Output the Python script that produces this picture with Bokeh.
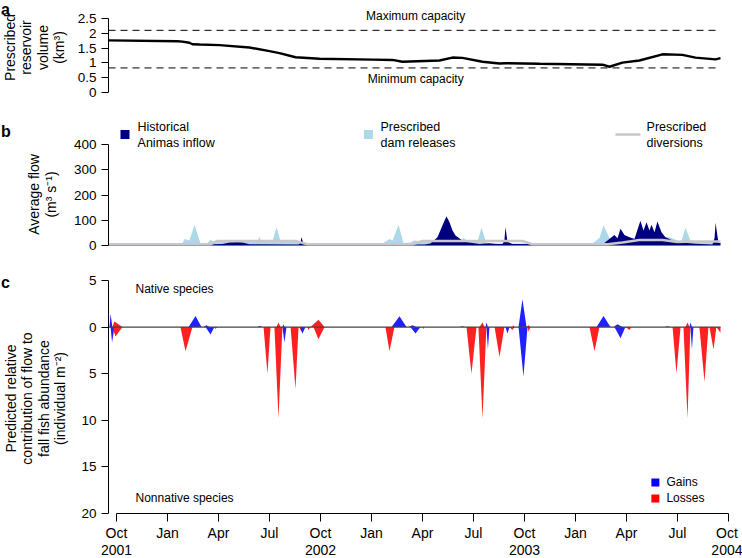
from math import pi
from bokeh.plotting import figure
from bokeh.layouts import column, row
from bokeh.models import Range1d, FixedTicker, Label
from bokeh.core.properties import value
from bokeh.embed import file_html
from bokeh.resources import INLINE

# ---------------- data (time in months since 1 Oct 2001) ----------------
vol_t = [-0.47, 3.59, 3.88, 4.29, 4.47, 4.88, 6.06, 7.82, 9.0, 9.59, 10.53, 11.94, 15.06, 16.24,
         16.82, 19.0, 19.76, 20.35, 21.53, 22.53, 22.88, 24.88, 28.59, 29.0, 29.76, 30.76, 32.12,
         33.29, 34.06, 35.24, 35.53]
vol = [1.76, 1.73, 1.72, 1.68, 1.63, 1.62, 1.60, 1.52, 1.40, 1.33, 1.19, 1.14, 1.11, 1.10,
       1.04, 1.08, 1.18, 1.17, 1.04, 0.98, 0.99, 0.97, 0.94, 0.87, 1.01, 1.08, 1.29,
       1.27, 1.18, 1.12, 1.16]
max_capacity = 2.1
min_capacity = 0.83

rel_t = [-0.47, 3.88, 4.0, 4.29, 4.59, 4.94, 5.35, 5.53, 5.71, 5.82, 8.29, 8.41, 8.53, 9.18, 9.41,
         9.65, 10.71, 10.88, 15.65, 16.06, 16.24, 16.59, 16.88, 17.29, 17.53, 17.88, 20.24, 20.41,
         20.65, 21.24, 21.47, 21.76, 22.71, 28.0, 28.41, 28.65, 29.0, 30.94, 32.53, 33.0, 33.24,
         33.47, 33.76, 34.47, 35.53]
releases = [9, 9, 26, 20, 82, 9, 9, 24, 15, 17, 17, 34, 17, 17, 73,
            17, 17, 8, 8, 26, 20, 82, 10, 12, 20, 17, 17, 30,
            18, 18, 70, 10, 8, 8, 30, 79, 30, 30, 33, 20, 20,
            70, 20, 15, 15]

inf_t = [-0.47, 5.06, 6.24, 6.65, 7.12, 7.41, 7.82, 10.71, 10.82, 10.88, 11.0, 11.53, 18.12, 18.47,
         18.88, 19.18, 19.41, 19.59, 19.76, 19.94, 20.35, 20.65, 21.35, 21.9, 22.3, 22.71, 22.82,
         22.88, 23.0, 23.29, 28.59, 28.88, 29.29, 29.47, 29.65, 29.88, 30.18, 30.47, 30.82, 31.0,
         31.18, 31.35, 31.47, 31.65, 31.82, 32.06, 32.29, 32.71, 33.12, 34.06, 35.06, 35.18, 35.24,
         35.41, 35.53]
inflow = [4, 4, 6, 12, 13, 12, 5, 4, 10, 33, 8, 4, 4, 8,
          33, 80, 116, 92, 60, 40, 20, 13, 6, 9, 6, 6, 20,
          73, 15, 6, 4, 20, 42, 29, 66, 42, 33, 26, 98, 59,
          92, 59, 82, 53, 95, 53, 33, 20, 13, 7, 4, 30, 90,
          10, 10]

div_t = [-0.47, 5.53, 5.94, 10.53, 11.24, 17.41, 18.0, 23.88, 24.47, 28.88, 29.76, 30.76, 32.12,
         33.0, 33.88, 35.53]
diversions = [5, 5, 18, 18, 5, 5, 18, 18, 5, 5, 12, 22, 22, 14, 16, 16]

# native species (plotted upward)
ng_t = [-0.47, -0.41, -0.35, -0.24, 4.24, 4.65, 5.0, 5.12, 5.29, 5.47, 8.29, 8.41, 8.59, 9.76,
        9.82, 9.88, 16.18, 16.65, 17.06, 17.18, 17.41, 17.65, 20.18, 20.35, 20.53, 21.71, 21.76,
        21.85, 23.65, 23.88, 24.12, 28.24, 28.65, 29.06, 29.24, 29.47, 29.76, 32.24, 32.41, 32.59,
        33.71, 33.76, 33.85, 35.53]
native_gains = [0, 0, 1.43, 0, 0, 1.2, 0, 0, 0.2, 0, 0, 0.12, 0, 0,
                0.3, 0, 0, 1.15, 0, 0, 0.2, 0, 0, 0.1, 0, 0, 0.5,
                0, 0, 3.0, 0, 0, 1.2, 0, 0, 0.3, 0, 0, 0.1, 0,
                0, 0.5, 0, 0]
nl_t = [-0.47, -0.24, -0.12, 0.35, 9.41, 9.53, 9.65, 11.41, 11.88, 12.24, 21.35, 21.53, 21.65,
        23.29, 23.35, 23.41, 24.12, 24.24, 24.35, 33.47, 33.59, 33.71, 35.53]
native_losses = [0, 0, 0.6, 0, 0, 0.5, 0, 0, 0.8, 0, 0, 0.5, 0,
                 0, 0.2, 0, 0, 0.2, 0, 0, 0.5, 0, 0]

# nonnative species (plotted downward)
xg_t = [-0.47, -0.35, -0.26, -0.12, 5.24, 5.53, 5.76, 9.76, 9.88, 10.0, 10.76, 10.94, 11.12,
        17.29, 17.59, 17.88, 21.76, 21.85, 21.94, 22.88, 23.0, 23.12, 23.65, 23.94, 24.18,
        29.29, 29.65, 29.94, 33.76, 33.85, 33.94, 35.53]
nonnative_gains = [0, 0, 1.65, 0, 0, 0.8, 0, 0, 1.65, 0, 0, 0.7, 0,
                   0, 0.7, 0, 0, 2.4, 0, 0, 0.7, 0, 0, 5.3, 0,
                   0, 1.2, 0, 0, 2.4, 0, 0]
xl_t = [-0.47, -0.24, -0.06, 0.35, 3.76, 4.06, 4.47, 5.76, 5.82, 5.94, 8.65, 8.88, 9.06, 9.29,
        9.53, 9.76, 10.24, 10.53, 10.71, 10.76, 10.82, 10.88, 11.24, 11.29, 11.41, 11.59, 11.88,
        12.24, 15.82, 16.06, 16.35, 18.0, 18.06, 18.12, 20.59, 20.88, 21.18, 21.29, 21.53, 21.76,
        22.24, 22.53, 22.82, 23.12, 23.29, 23.41, 24.18, 24.24, 24.35, 27.82, 28.12, 28.41, 29.94,
        30.18, 30.29, 32.71, 32.94, 33.18, 33.35, 33.59, 33.76, 34.29, 34.59, 34.82, 34.88, 35.12,
        35.29, 35.53]
nonnative_losses = [0, 0, 1.0, 0, 0, 2.6, 0, 0, 0.2, 0, 0, 5.0, 0, 0,
                    9.8, 0, 0, 6.65, 0, 0, 0.3, 0, 0, 0.3, 0, 0, 1.3,
                    0, 0, 2.6, 0, 0, 0.2, 0, 0, 5.0, 0, 0, 9.8, 0,
                    0, 3.2, 0, 0, 0.3, 0, 0, 0.5, 0, 0, 2.6, 0, 0,
                    0.3, 0, 0, 5.0, 0, 0, 9.8, 0, 0, 5.9, 0, 0, 2.4,
                    0, 0.6]

tick_months = list(range(0, 37, 3))
month_names = ["Oct", "Jan", "Apr", "Jul"]
first_year = 2001

panel_letters = ["a", "b", "c"]
panel_ylabels = ["Prescribed\nreservoir\nvolume\n(km³)",
                 "Average flow\n(m³ s⁻¹)",
                 "Predicted relative\ncontribution of flow to\nfall fish abundance\n(individual m⁻²)"]

# ---------------- styling helpers ----------------
FONT = "Liberation Sans"
LEFT_W = 70
FRAME_W = 621
XR = Range1d(-0.47, 36.06)


def make_fig(frame_h, yr, bottom=0, xaxis=False):
    p = figure(frame_width=FRAME_W, frame_height=frame_h, x_range=XR, y_range=yr,
               output_backend="svg", toolbar_location=None,
               x_axis_location="below" if xaxis else None,
               min_border=0, min_border_left=36, min_border_right=15,
               min_border_top=0, min_border_bottom=bottom)
    p.grid.visible = False
    p.outline_line_color = None
    p.background_fill_color = "white"
    return p


def style_y(p, ticks, labels, bounds):
    ax = p.yaxis[0]
    ax.ticker = FixedTicker(ticks=ticks)
    ax.major_label_overrides = {t: l for t, l in zip(ticks, labels)}
    ax.bounds = bounds
    ax.major_tick_out = 7
    ax.major_tick_in = 0
    ax.minor_tick_out = 0
    ax.minor_tick_in = 0
    ax.major_label_standoff = 5
    ax.major_label_text_font = FONT
    ax.major_label_text_font_size = "13.5px"
    ax.major_label_text_color = "black"
    ax.axis_line_color = "black"
    ax.major_tick_line_color = "black"


def add_text(p, x, y, text, size="12px", align="left", baseline="middle"):
    p.add_layout(Label(x=x, y=y, text=text, text_font=FONT, text_font_size=size,
                       text_align=align, text_baseline=baseline, text_color="black"))


# ---------------- left strip: panel letters and y-axis titles ----------------
pl = figure(width=LEFT_W, height=558, x_range=Range1d(0, LEFT_W), y_range=Range1d(558, 0),
            output_backend="svg", toolbar_location=None, x_axis_location=None,
            y_axis_location=None, min_border=0)
pl.grid.visible = False
pl.outline_line_color = None
pl.text(x=[0.5, 0.5, 0.5], y=[8.5, 131, 282], text=panel_letters, text_font=value(FONT),
        text_font_size=value("16px"), text_font_style="bold", text_align="left",
        text_baseline="alphabetic", text_color="black")
pl.text(x=[34, 42, 35], y=[47, 194, 398], text=panel_ylabels, angle=pi / 2,
        text_font=value(FONT), text_font_size=value("14px"), text_align="center",
        text_baseline="middle", text_line_height=1.03, text_color="black")

# ---------------- panel a ----------------
pa = make_fig(105, Range1d(-0.439, 3.108))
style_y(pa, [0, 0.5, 1, 1.5, 2, 2.5], ["0", "0.5", "1", "1.5", "2", "2.5"], (0, 2.5))
pa.line([vol_t[0], vol_t[-1]], [max_capacity, max_capacity], line_color="black",
        line_width=1, line_dash="7 5")
pa.line([vol_t[0], vol_t[-1]], [min_capacity, min_capacity], line_color="black",
        line_width=1, line_dash="7 5")
pa.line(vol_t, vol, line_color="black", line_width=2.4)
add_text(pa, 17.6, 2.6, "Maximum capacity", align="center")
add_text(pa, 17.6, 0.47, "Minimum capacity", align="center")

# ---------------- panel b ----------------
pb = make_fig(157, Range1d(-67.3, 554.5))
style_y(pb, [0, 100, 200, 300, 400], ["0", "100", "200", "300", "400"], (0, 400))
pb.varea(x=rel_t, y1=[0] * len(rel_t), y2=releases, fill_color="#ADD8E6")
pb.varea(x=inf_t, y1=[0] * len(inf_t), y2=inflow, fill_color="#00007F")
pb.line(div_t, diversions, line_color="#C8C8C8", line_width=2.5)
pb.scatter([0.5], [440], marker="square", size=9, fill_color="#00007F", line_color=None)
pb.scatter([14.82], [440], marker="square", size=9, fill_color="#ADD8E6", line_color=None)
pb.line([29.35, 30.82], [440, 440], line_color="#C8C8C8", line_width=2.5)
add_text(pb, 1.24, 468, "Historical", size="12.5px")
add_text(pb, 1.24, 405, "Animas inflow", size="12.5px")
add_text(pb, 15.53, 468, "Prescribed", size="12.5px")
add_text(pb, 15.53, 405, "dam releases", size="12.5px")
add_text(pb, 31.18, 468, "Prescribed", size="12.5px")
add_text(pb, 31.18, 405, "diversions", size="12.5px")

# ---------------- panel c ----------------
pc = make_fig(251, Range1d(-20, 6.93), bottom=45, xaxis=True)
style_y(pc, [-20, -15, -10, -5, 0, 5], ["20", "15", "10", "5", "0", "5"], (-20, 5))
blue = "#0000FF"
red = "#FF0000"
pc.varea(x=ng_t, y1=[0] * len(ng_t), y2=native_gains, fill_color=blue, fill_alpha=0.87)
pc.varea(x=xg_t, y1=[0] * len(xg_t), y2=[-v for v in nonnative_gains], fill_color=blue,
         fill_alpha=0.87)
pc.varea(x=nl_t, y1=[0] * len(nl_t), y2=native_losses, fill_color=red, fill_alpha=0.87)
pc.varea(x=xl_t, y1=[0] * len(xl_t), y2=[-v for v in nonnative_losses], fill_color=red,
         fill_alpha=0.87)
pc.line([ng_t[0], ng_t[-1]], [0, 0], line_color="#444444", line_width=1.2)
add_text(pc, 1.12, 4.08, "Native species")
add_text(pc, 1.12, -18.35, "Nonnative species")
pc.scatter([31.7], [-16.67], marker="square", size=8, fill_color=blue, line_color=None)
pc.scatter([31.7], [-18.39], marker="square", size=8, fill_color=red, line_color=None)
add_text(pc, 32.35, -16.67, "Gains")
add_text(pc, 32.35, -18.39, "Losses")

xa = pc.xaxis[0]
xa.ticker = FixedTicker(ticks=tick_months)
labels = {}
for i, m in enumerate(tick_months):
    name = month_names[i % 4]
    if name == "Oct":
        name = f"{name}\n{first_year + i // 4}"
    labels[m] = name
xa.major_label_overrides = labels
xa.bounds = (tick_months[0], tick_months[-1])
xa.major_tick_out = 8
xa.major_tick_in = 0
xa.minor_tick_out = 0
xa.minor_tick_in = 0
xa.major_label_standoff = 3
xa.major_label_text_font = FONT
xa.major_label_text_font_size = "14px"
xa.major_label_text_line_height = 1.1
xa.major_label_text_color = "black"
xa.axis_line_color = "black"
xa.major_tick_line_color = "black"

layout = row(pl, column(pa, pb, pc, spacing=0), spacing=0)
open("out.html", "w").write(file_html(layout, INLINE))
